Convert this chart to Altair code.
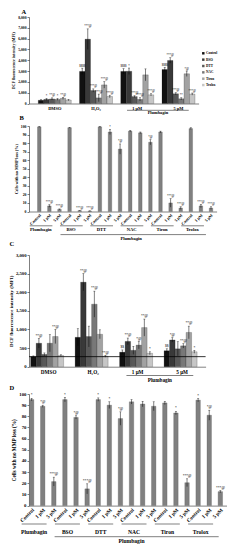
import altair as alt
import pandas as pd

FONT = "Liberation Serif"

# ---------------- shared categories ----------------
series = ["Control", "BSO", "DTT", "NAC", "Tiron", "Trolox"]
groups_ac = ["DMSO", "H₂O₂", "1 μM", "5 μM"]
series_colors = ["#111111", "#393939", "#585858", "#787878", "#a2a2a2", "#c6c6c6"]
conds = ["Control", "1 μM", "5 μM"]
groups_bd = ["Plumbagin", "BSO", "DTT", "NAC", "Tiron", "Trolox"]

# ---------------- Panel A : DCF fluorescence (MFI) ----------------
a_dmso = [300, 380, 420, 380, 480, 320]
a_h2o2 = [2970, 5950, 1200, 520, 1720, 650]
a_1um = [2970, 2980, 640, 380, 2650, 800]
a_5um = [3150, 3980, 900, 430, 2750, 870]
a_err_dmso = [60, 80, 100, 80, 100, 60]
a_err_h2o2 = [300, 950, 150, 350, 300, 120]
a_err_1um = [250, 300, 80, 150, 550, 100]
a_err_5um = [200, 250, 100, 100, 250, 100]
a_note_dmso = ["", "*", "**@", "*", "**@", ""]
a_note_h2o2 = ["$$$$", "***@", "***@", "***@", "***@", "***@"]
a_note_1um = ["$$$$", "*", "***@", "***@", "", "***@"]
a_note_5um = ["$$$$", "***@", "***@", "**", "*@", "***@"]
a_ticks = [0, 1000, 2000, 3000, 4000, 5000, 6000, 7000, 8000]

# ---------------- Panel B : cells with no MMP loss ----------------
b_vals = [99, 6.5, 2.5, 98, 1.0, 0.5, 99, 93, 73, 94, 92, 81, 93, 10, 4, 97, 6.5, 4]
b_errs = [0.5, 1.5, 0.5, 0.5, 0.3, 0.3, 0.5, 3, 6, 1, 1, 3, 1, 5, 1.5, 1, 2, 1.5]
b_notes = ["", "***@", "***@", "", "***@", "***@", "", "*", "*@", "", "", "*@",
           "", "***@", "***@", "", "***@", "***@"]
pct_ticks = [0, 10, 20, 30, 40, 50, 60, 70, 80, 90, 100]

# ---------------- Panel C : DCF fluorescence (MFI) ----------------
c_dmso = [270, 630, 330, 630, 810, 300]
c_h2o2 = [790, 2270, 810, 1680, 870, 280]
c_1um = [390, 680, 440, 580, 1050, 360]
c_5um = [430, 720, 480, 560, 920, 400]
c_err_dmso = [20, 130, 40, 230, 190, 20]
c_err_h2o2 = [230, 230, 280, 350, 120, 25]
c_err_1um = [60, 90, 110, 100, 230, 40]
c_err_5um = [50, 60, 190, 60, 170, 40]
c_note_dmso = ["", "**@", "", "", "**@", ""]
c_note_h2o2 = ["", "**@", "", "**@", "", "**@"]
c_note_1um = ["$$", "**@", "", "*@", "**@", "*"]
c_note_5um = ["$$", "*@", "", "**@", "**@", "*"]
c_ticks = [0, 500, 1000, 1500, 2000, 2500, 3000]

# ---------------- Panel D : cells with no MMP loss ----------------
d_vals = [95, 89, 21.5, 95, 79, 15, 95, 90, 78, 93, 91, 89, 92, 83, 20.5, 94.5, 81, 12.5]
d_errs = [1.2, 1, 4, 2, 1.5, 4.5, 1.5, 3, 6, 2, 2.5, 4, 1.5, 1.5, 3.5, 1.5, 4.5, 1]
d_notes = ["*", "*@", "***@", "*", "*@", "***@", "*", "*", "*@", "", "", "",
           "", "*", "***@", "*", "*@", "***@"]


def grouped_df(vals, errs, notes):
    rows = []
    for g, vs, es, ns in zip(groups_ac, vals, errs, notes):
        for s, v, e, n in zip(series, vs, es, ns):
            rows.append({"group": g, "series": s, "value": v,
                         "lo": max(v - e, 0), "hi": v + e, "note": n})
    return pd.DataFrame(rows)


def band_step(w, n, pI, pO):
    return w / (n - pI + 2 * pO)


def panel_title(letter, dx, offset):
    return alt.TitleParams(letter, anchor="start", frame="group", fontSize=6.5, font=FONT,
                           fontWeight="bold", color="black", dx=dx, offset=offset)


def grouped_panel(df, letter, ticks, ytitle, w, h, pI, pO, balign, fs, lab_fs,
                  legend_x, legend_y, legend_rowpad, legend_fs, title_dx, title_offset,
                  tpad, line_dy, text_dy, note_fs, level=None):
    step = band_step(w, len(groups_ac), pI, pO)
    bwpx = step * (1 - pI)
    xscale = alt.Scale(domain=groups_ac, paddingInner=pI, paddingOuter=pO, align=balign)
    xaxis = alt.Axis(title=None, labelAngle=0, ticks=False, labelPadding=2.5,
                     labelFontSize=lab_fs)
    x = alt.X("group:N", scale=xscale, axis=xaxis)
    xo = alt.XOffset("series:N", scale=alt.Scale(domain=series, paddingInner=0, paddingOuter=0))
    yscale = alt.Scale(domain=[ticks[0], ticks[-1]], nice=False)
    yax = alt.Axis(values=ticks, title=ytitle, grid=False, tickSize=2, labelPadding=1,
                   titlePadding=tpad, labelFontSize=fs - 0.3, titleFontSize=fs)
    base = alt.Chart(df)
    bars = base.mark_bar(stroke="#000", strokeWidth=0.2).encode(
        x=x, xOffset=xo,
        y=alt.Y("value:Q", scale=yscale, axis=yax),
        color=alt.Color("series:N", scale=alt.Scale(domain=series, range=series_colors),
                        legend=alt.Legend(title=None, orient="none", legendX=legend_x,
                                          legendY=legend_y, symbolType="square",
                                          symbolSize=6, symbolStrokeWidth=0,
                                          labelFontSize=legend_fs, labelFont=FONT,
                                          labelFontWeight="bold", labelColor="black",
                                          rowPadding=legend_rowpad, labelOffset=1,
                                          padding=0, symbolOffset=0)))
    stems = base.mark_rule(color="#000", strokeWidth=0.5).encode(
        x=x, xOffset=xo, y=alt.Y("lo:Q", scale=yscale, axis=yax), y2="hi:Q")
    caps = base.mark_tick(color="#000", thickness=0.5, size=2).encode(
        x=x, xOffset=xo, y=alt.Y("hi:Q", scale=yscale, axis=yax))
    notes = base.mark_text(font=FONT, fontSize=note_fs, baseline="bottom", dy=-0.8,
                           color="#000").encode(
        x=x, xOffset=xo, y=alt.Y("hi:Q", scale=yscale, axis=yax), text="note:N")
    one = pd.DataFrame({"label": ["Plumbagin"]})
    line = alt.Chart(one).mark_rule(color="#000", strokeWidth=0.5,
                                    xOffset=0.19 * bwpx, x2Offset=-0.19 * bwpx).encode(
        x=alt.XDatum("1 μM", type="nominal", scale=xscale, axis=xaxis, bandPosition=0),
        x2=alt.X2Datum("5 μM", bandPosition=1),
        y=alt.value(h + line_dy))
    txt = alt.Chart(one).mark_text(font=FONT, fontWeight="bold", fontSize=lab_fs,
                                   baseline="middle", color="#000",
                                   dx=(step - bwpx) / 2).encode(
        x=alt.XDatum("1 μM", type="nominal", scale=xscale, axis=xaxis, bandPosition=1),
        y=alt.value(h + text_dy), text="label:N")
    layers = [bars, stems, caps, notes, line, txt]
    if level is not None:
        lvl = alt.Chart(pd.DataFrame({"level": [level]})).mark_rule(
            color="#000", strokeWidth=0.8).encode(y=alt.Y("level:Q", scale=yscale, axis=yax))
        layers.append(lvl)
    return alt.layer(*layers).properties(width=w, height=h,
                                         title=panel_title(letter, title_dx, title_offset))


def single_panel(vals, errs, notes, letter, ticks, ytitle, w, h, pI, pO, balign, fs,
                 lab_fs, grp_fs, title_dx, title_offset, tpad, gl_dy, gt_dy, ll_dy, lt_dy,
                 gt_s, gl_s0, gl_s1, ll_s0, ll_s1, lt_s, note_fs):
    keys = [f"{g}|{c}" for g in groups_bd for c in conds]
    df = pd.DataFrame({"key": keys, "value": vals,
                       "lo": [max(v - e, 0) for v, e in zip(vals, errs)],
                       "hi": [v + e for v, e in zip(vals, errs)],
                       "note": notes})
    step = band_step(w, len(keys), pI, pO)

    xscale = alt.Scale(domain=keys, paddingInner=pI, paddingOuter=pO, align=balign)
    xaxis = alt.Axis(title=None, labelExpr="split(datum.label, '|')[1]", labelAngle=-45,
                     ticks=False, labelPadding=1.5, labelFontSize=lab_fs)
    x = alt.X("key:N", scale=xscale, axis=xaxis)
    yscale = alt.Scale(domain=[ticks[0], ticks[-1]], nice=False)
    yax = alt.Axis(values=ticks, title=ytitle, grid=False, tickSize=2, labelPadding=1,
                   titlePadding=tpad, labelFontSize=fs - 0.4, titleFontSize=fs)
    base = alt.Chart(df)
    bars = base.mark_bar(color="#808080", stroke="#555", strokeWidth=0.3).encode(
        x=x, y=alt.Y("value:Q", scale=yscale, axis=yax))
    stems = base.mark_rule(color="#000", strokeWidth=0.5).encode(
        x=x, y=alt.Y("lo:Q", scale=yscale, axis=yax), y2="hi:Q")
    caps = base.mark_tick(color="#000", thickness=0.5, size=2).encode(
        x=x, y=alt.Y("hi:Q", scale=yscale, axis=yax))
    nts = base.mark_text(font=FONT, fontSize=note_fs, baseline="bottom", dy=-0.8,
                         color="#000").encode(
        x=x, y=alt.Y("hi:Q", scale=yscale, axis=yax), text="note:N")
    grp = pd.DataFrame({"name": groups_bd,
                        "first": [f"{g}|Control" for g in groups_bd],
                        "second": [f"{g}|1 μM" for g in groups_bd]})
    gtext = alt.Chart(grp).mark_text(font=FONT, fontWeight="bold", fontSize=grp_fs,
                                     baseline="middle", color="#000",
                                     dx=gt_s * step).encode(
        x=alt.X("first:N", scale=xscale, axis=xaxis, bandPosition=0.5),
        y=alt.value(h + gt_dy), text="name:N")
    gline = alt.Chart(grp).mark_rule(color="#000", strokeWidth=0.5,
                                     xOffset=gl_s0 * step, x2Offset=gl_s1 * step).encode(
        x=alt.X("first:N", scale=xscale, axis=xaxis, bandPosition=0.5),
        x2=alt.X2("second:N", bandPosition=0.5),
        y=alt.value(h + gl_dy))
    one = pd.DataFrame({"label": ["Plumbagin"]})
    lline = alt.Chart(one).mark_rule(color="#000", strokeWidth=0.5,
                                     xOffset=ll_s0 * step, x2Offset=ll_s1 * step).encode(
        x=alt.XDatum("BSO|Control", type="nominal", scale=xscale, axis=xaxis,
                     bandPosition=0.5),
        x2=alt.X2Datum("Trolox|5 μM", bandPosition=0.5),
        y=alt.value(h + ll_dy))
    ltext = alt.Chart(one).mark_text(font=FONT, fontWeight="bold", fontSize=grp_fs,
                                     baseline="middle", color="#000",
                                     dx=lt_s * step).encode(
        x=alt.XDatum("NAC|Control", type="nominal", scale=xscale, axis=xaxis,
                     bandPosition=0.5),
        y=alt.value(h + lt_dy), text="label:N")
    return alt.layer(bars, stems, caps, nts, gtext, gline, lline, ltext).properties(
        width=w, height=h, title=panel_title(letter, title_dx, title_offset))


df_a = grouped_df([a_dmso, a_h2o2, a_1um, a_5um],
                  [a_err_dmso, a_err_h2o2, a_err_1um, a_err_5um],
                  [a_note_dmso, a_note_h2o2, a_note_1um, a_note_5um])
df_c = grouped_df([c_dmso, c_h2o2, c_1um, c_5um],
                  [c_err_dmso, c_err_h2o2, c_err_1um, c_err_5um],
                  [c_note_dmso, c_note_h2o2, c_note_1um, c_note_5um])

panel_a = grouped_panel(df_a, "A", a_ticks, "DCF fluorescence intensity (MFI)",
                        w=169.6, h=86.5, pI=0.2, pO=0.156, balign=0.72, fs=4.0, lab_fs=4.4,
                        legend_x=172.6, legend_y=34.6, legend_rowpad=1.35, legend_fs=3.4,
                        title_dx=-7.4, title_offset=0, tpad=2,
                        line_dy=6.8, text_dy=9.7, note_fs=3.0)
panel_b = single_panel(b_vals, b_errs, b_notes, "B", pct_ticks, "Cells with no MMP loss (%)",
                       w=187.6, h=85.5, pI=0.65, pO=0.61, balign=0.69, fs=4.2, lab_fs=4.2,
                       grp_fs=4.6, title_dx=-9.4, title_offset=0.7, tpad=2,
                       gl_dy=14.3, gt_dy=18.2, ll_dy=23.1, lt_dy=27,
                       gt_s=0.15, gl_s0=-0.95, gl_s1=0.3, ll_s0=-0.9, ll_s1=-0.5,
                       lt_s=0.1, note_fs=3.0)
panel_c = grouped_panel(df_c, "C", c_ticks, "DCF fluorescence intensity (MFI)",
                        w=176.6, h=111.7, pI=0.19, pO=0.08, balign=0.23, fs=5.0, lab_fs=5.2,
                        legend_x=177.6, legend_y=43.5, legend_rowpad=2.65, legend_fs=4.8,
                        title_dx=-19.4, title_offset=4.1, tpad=2,
                        line_dy=8.8, text_dy=13.7, note_fs=3.6, level=c_dmso[0])
panel_d = single_panel(d_vals, d_errs, d_notes, "D", pct_ticks, "Cells with no MMP loss (%)",
                       w=197.6, h=111.6, pI=0.6, pO=0.2, balign=0.09, fs=5.2, lab_fs=5.2,
                       grp_fs=5.6, title_dx=-19.4, title_offset=0, tpad=2,
                       gl_dy=18.4, gt_dy=26.1, ll_dy=31.1, lt_dy=35,
                       gt_s=0.23, gl_s0=-0.9, gl_s1=0.35, ll_s0=-0.93, ll_s1=-0.15,
                       lt_s=0.0, note_fs=3.6)

chart = alt.vconcat(panel_a, panel_b, panel_c, panel_d, spacing=0).properties(
    padding=0
).configure_view(stroke=None).configure_axis(
    labelFont=FONT, titleFont=FONT, labelFontWeight="bold", titleFontWeight="bold",
    labelColor="black", titleColor="black", domainColor="black", tickColor="black",
    domainWidth=0.5, tickWidth=0.5
)

chart.save("out.html", embed_options={"renderer": "svg", "actions": False})
